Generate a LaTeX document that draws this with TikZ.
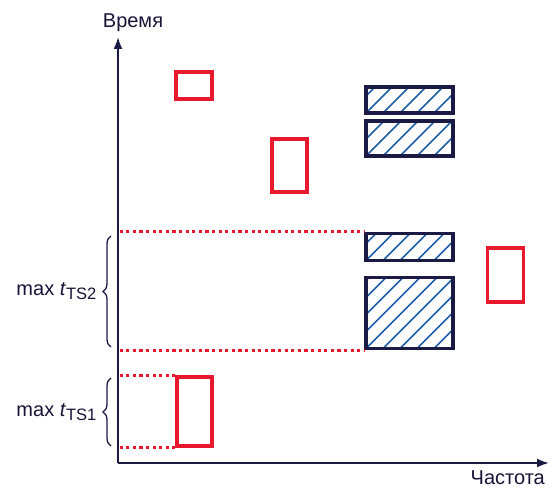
\documentclass[tikz,border=0pt]{standalone}
\usepackage{fontspec}
\setmainfont{Liberation Sans}
\usetikzlibrary{arrows.meta,decorations.pathreplacing}
\definecolor{navy}{HTML}{1B1A45}
\definecolor{hatchblue}{HTML}{1F5FA8}
\definecolor{redbox}{HTML}{E8192C}
\tikzset{
  axisline/.style={navy,line width=2pt,-{Latex[length=12pt,width=9pt]}},
  redrect/.style={draw=redbox,line width=3.4pt,inner sep=0pt,fill=white},
  hatchrect/.style={draw=navy,line width=3.4pt,inner sep=0pt,
    path picture={\foreach \i in {-8,...,8}{\draw[hatchblue,line width=1.5pt]
      ([xshift=\i*17pt]path picture bounding box.south west) -- ++(100pt,100pt);}}},
  reddots/.style={redbox,line width=3.2pt,dash pattern=on 3.2pt off 3.4pt},
  bracestyle/.style={navy,line width=1.3pt,decorate,decoration={brace,amplitude=8pt}},
  lbl/.style={font=\fontsize{20}{24}\selectfont,text=navy!80!black,inner sep=0pt}
}
\newcommand{\sub}[1]{\raisebox{-0.4ex}{\fontsize{16.5}{18}\selectfont #1}}
\begin{document}
\begin{tikzpicture}[x=1pt,y=-1pt]
\useasboundingbox (0,0) rectangle (549,489);
% axes
\coordinate (O) at (118,463);
\coordinate (ytop) at (118,37);
\coordinate (xend) at (549,463);
\draw[axisline] (O) -- (ytop);
\draw[axisline] (O) -- (xend);
\node[lbl,anchor=base] (yl) at (133,28) {Время};
\node[lbl,anchor=base east] (xl) at (545,484) {Частота};
% red rectangles
\node[redrect,minimum width=36pt,minimum height=27pt] (r1) at (194,85.5) {};
\node[redrect,minimum width=35pt,minimum height=53pt] (r2) at (289.5,165.5) {};
\node[redrect,minimum width=36pt,minimum height=54pt] (r3) at (505.5,275) {};
\node[redrect,minimum width=35pt,minimum height=69pt] (r4) at (194.5,411.5) {};
% hatched rectangles
\node[hatchrect,minimum width=87pt,minimum height=26pt] (h1) at (409.5,100) {};
\node[hatchrect,minimum width=87pt,minimum height=35pt] (h2) at (409.5,138.5) {};
\node[hatchrect,minimum width=87pt,minimum height=27pt] (h3) at (409.5,247) {};
\node[hatchrect,minimum width=87pt,minimum height=71pt] (h4) at (409.5,313) {};
% dotted lines
\draw[reddots] (h3.north west -| O) ++(1.6,0) -- (h3.north west);
\draw[reddots] (h4.south west -| O) ++(1.6,0) -- (h4.south west);
\draw[reddots] (r4.north west -| O) ++(1.6,0) -- (r4.north west);
\draw[reddots] (r4.south west -| O) ++(1.6,0) -- (r4.south west);
% braces
\coordinate (b2s) at (111,347);
\coordinate (b2e) at (111,236);
\coordinate (b1s) at (111,446);
\coordinate (b1e) at (111,378);
\draw[bracestyle] (b2s) -- (b2e) node[midway,xshift=-14pt,lbl,anchor=east] (t2) {max \textit{t}\sub{TS2}};
\draw[bracestyle] (b1s) -- (b1e) node[midway,xshift=-14pt,lbl,anchor=east] (t1) {max \textit{t}\sub{TS1}};
\end{tikzpicture}
\end{document}
